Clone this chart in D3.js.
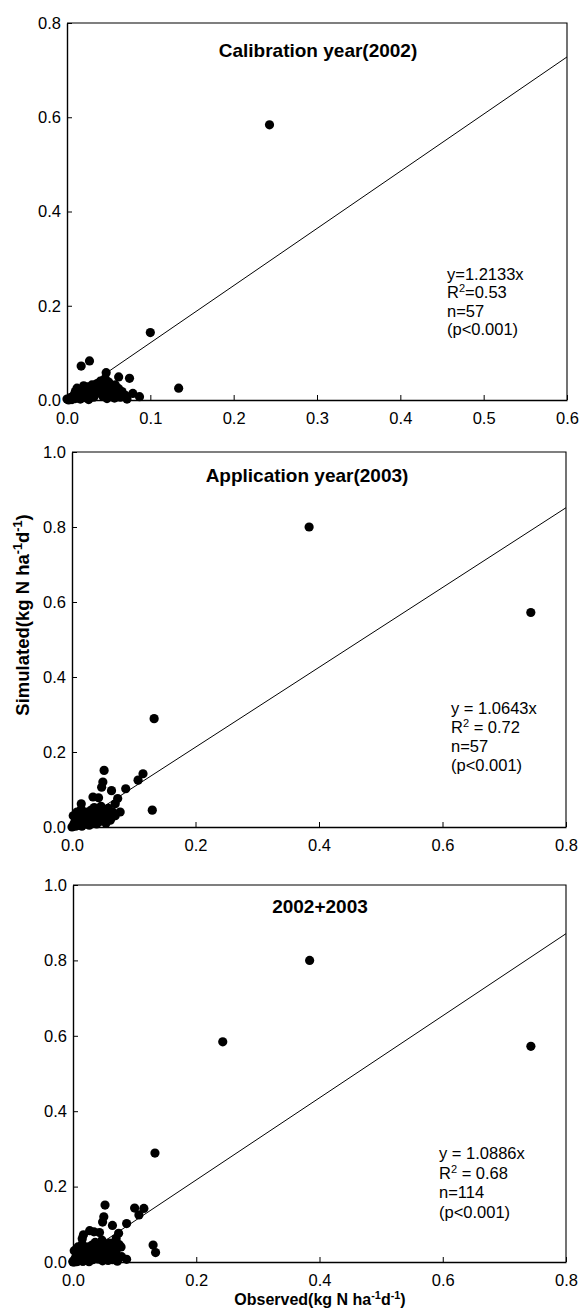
<!DOCTYPE html>
<html>
    <head>
        <meta charset="utf-8">
        <title>Simulated vs observed N</title>
        <style>
         body { margin: 0; background: #fff; }
         svg text { font-family: "Liberation Sans", Arial, sans-serif; fill: #000; white-space: pre; }
        </style>
    </head>

    <body>
        <div id="chart"></div>

        <script src="https://d3js.org/d3.v7.min.js"></script>
        <script>
         // observed / simulated pairs
         var cal2002 = [
             [0.243,0.584],[0.100,0.143],[0.134,0.025],[0.017,0.072],[0.027,0.083],
             [0.047,0.058],[0.062,0.049],[0.075,0.046],[0.079,0.014],[0.087,0.007],
             [0.000,0.002],[0.002,0.000],[0.004,0.005],[0.006,0.001],[0.008,0.010],
             [0.010,0.003],[0.010,0.018],[0.012,0.025],[0.014,0.008],[0.015,0.015],
             [0.016,0.002],[0.018,0.022],[0.020,0.030],[0.020,0.010],[0.022,0.005],
             [0.024,0.018],[0.025,0.028],[0.026,0.001],[0.028,0.012],[0.030,0.032],
             [0.030,0.022],[0.032,0.006],[0.034,0.025],[0.036,0.035],[0.038,0.015],
             [0.040,0.030],[0.040,0.040],[0.042,0.020],[0.043,0.008],[0.044,0.035],
             [0.045,0.012],[0.046,0.045],[0.048,0.026],[0.048,0.003],[0.050,0.038],
             [0.050,0.018],[0.052,0.030],[0.054,0.010],[0.055,0.022],[0.057,0.004],
             [0.058,0.032],[0.060,0.015],[0.062,0.024],[0.064,0.006],[0.066,0.018],
             [0.070,0.010],[0.072,0.002]
         ];
         var app2003 = [
             [0.384,0.800],[0.743,0.572],[0.133,0.289],[0.130,0.045],[0.115,0.142],
             [0.107,0.125],[0.087,0.102],[0.052,0.151],[0.050,0.120],[0.048,0.106],
             [0.064,0.097],[0.034,0.080],[0.043,0.078],[0.074,0.076],[0.070,0.062],
             [0.015,0.062],[0.078,0.040],[0.064,0.025],
             [0.000,0.000],[0.002,0.030],[0.003,0.008],[0.005,0.015],[0.006,0.002],
             [0.008,0.040],[0.009,0.022],[0.010,0.005],[0.012,0.030],[0.013,0.012],
             [0.015,0.048],[0.016,0.002],[0.018,0.020],[0.020,0.035],[0.021,0.008],
             [0.023,0.015],[0.025,0.040],[0.026,0.028],[0.028,0.005],[0.030,0.020],
             [0.031,0.045],[0.033,0.012],[0.035,0.032],[0.036,0.052],[0.038,0.022],
             [0.040,0.008],[0.041,0.040],[0.043,0.030],[0.045,0.015],[0.047,0.055],
             [0.049,0.035],[0.051,0.022],[0.053,0.045],[0.055,0.010],[0.057,0.030],
             [0.059,0.050],[0.062,0.018],[0.066,0.040],[0.070,0.030]
         ];
         // the third panel is both years pooled (n=114)
         var both = cal2002.concat(app2003);

         var titles = ["Calibration year(2002)", "Application year(2003)", "2002+2003"];
         var slopes = [1.2133, 1.0643, 1.0886];
         var eqText = ["y=1.2133x", "y = 1.0643x", "y = 1.0886x"];
         var r2Text = ["=0.53", " = 0.72", " = 0.68"];
         var nText = ["n=57", "n=57", "n=114"];
         var xTicks1 = [0, 0.1, 0.2, 0.3, 0.4, 0.5, 0.6];
         var xTicks23 = [0, 0.2, 0.4, 0.6, 0.8];
         var yTicks1 = [0, 0.2, 0.4, 0.6, 0.8];
         var yTicks23 = [0, 0.2, 0.4, 0.6, 0.8, 1.0];

         var panels = [
             { data: cal2002, xMax: 0.6, xTicks: xTicks1, yMax: 0.8, yTicks: yTicks1,
               left: 67, right: 567, top: 23, bottom: 400,
               titleX: 318, titleY: 57, noteX: 447, noteY: 280, noteGap: 18.3 },
             { data: app2003, xMax: 0.8, xTicks: xTicks23, yMax: 1.0, yTicks: yTicks23,
               left: 72, right: 566, top: 452, bottom: 827,
               titleX: 307, titleY: 482, noteX: 451, noteY: 714, noteGap: 19 },
             { data: both, xMax: 0.8, xTicks: xTicks23, yMax: 1.0, yTicks: yTicks23,
               left: 73, right: 566, top: 885, bottom: 1262,
               titleX: 320, titleY: 913, noteX: 439, noteY: 1159, noteGap: 19.5 }
         ];

         var fmt = d3.format(".1f");
         var svg = d3.select("#chart").append("svg")
             .attr("width", 580)
             .attr("height", 1310);

         panels.forEach(function(p, i) {
             var x = d3.scaleLinear().domain([0, p.xMax]).range([p.left, p.right]);
             var y = d3.scaleLinear().domain([0, p.yMax]).range([p.bottom, p.top]);
             var g = svg.append("g");

             // top and right edges of the box
             g.append("path")
                 .attr("d", "M" + p.left + "," + p.top + "H" + p.right + "V" + p.bottom)
                 .attr("fill", "none")
                 .attr("stroke", "#000")
                 .attr("stroke-width", 1.1);

             var xa = g.append("g")
                 .attr("transform", "translate(0," + p.bottom + ")")
                 .call(d3.axisBottom(x).tickValues(p.xTicks).tickFormat(fmt)
                       .tickSizeInner(-5).tickSizeOuter(0).tickPadding(12));
             var ya = g.append("g")
                 .attr("transform", "translate(" + p.left + ",0)")
                 .call(d3.axisLeft(y).tickValues(p.yTicks).tickFormat(fmt)
                       .tickSizeInner(-5).tickSizeOuter(0).tickPadding(6));
             [xa, ya].forEach(function(a) {
                 a.attr("font-size", 16.5).attr("font-family", null);
                 a.select(".domain").attr("stroke-width", 1.4);
                 a.selectAll(".tick line").attr("stroke-width", 1);
             });

             // regression line through the origin, clipped to the box
             g.append("clipPath").attr("id", "clip" + i)
                 .append("rect")
                 .attr("x", p.left).attr("y", p.top)
                 .attr("width", p.right - p.left).attr("height", p.bottom - p.top);
             g.append("line")
                 .attr("clip-path", "url(#clip" + i + ")")
                 .attr("x1", x(0)).attr("y1", y(0))
                 .attr("x2", x(p.xMax)).attr("y2", y(slopes[i] * p.xMax))
                 .attr("stroke", "#000")
                 .attr("stroke-width", 1);

             g.selectAll("circle")
                 .data(p.data)
                 .enter().append("circle")
                 .attr("cx", function(d) { return x(d[0]); })
                 .attr("cy", function(d) { return y(d[1]); })
                 .attr("r", 4.6)
                 .attr("fill", "#000");

             g.append("text")
                 .attr("x", p.titleX).attr("y", p.titleY)
                 .attr("text-anchor", "middle")
                 .attr("font-size", 19)
                 .attr("font-weight", "bold")
                 .text(titles[i]);

             var note = g.append("g").attr("font-size", 16.5);
             note.append("text").attr("x", p.noteX).attr("y", p.noteY).text(eqText[i]);
             var r2 = note.append("text").attr("x", p.noteX).attr("y", p.noteY + p.noteGap);
             r2.append("tspan").text("R");
             r2.append("tspan").attr("dy", -6).attr("font-size", 11).text("2");
             r2.append("tspan").attr("dy", 6).text(r2Text[i]);
             note.append("text").attr("x", p.noteX).attr("y", p.noteY + 2 * p.noteGap).text(nText[i]);
             note.append("text").attr("x", p.noteX).attr("y", p.noteY + 3 * p.noteGap).text("(p<0.001)");
         });

         // axis titles
         function unitLabel(t, name, size) {
             t.attr("font-weight", "bold").attr("font-size", size).attr("text-anchor", "middle");
             t.append("tspan").text(name + "(kg N ha");
             t.append("tspan").attr("dy", -size * 0.4).attr("font-size", size * 0.68).text("-1");
             t.append("tspan").attr("dy", size * 0.4).text("d");
             t.append("tspan").attr("dy", -size * 0.4).attr("font-size", size * 0.68).text("-1");
             t.append("tspan").attr("dy", size * 0.4).text(")");
         }
         unitLabel(svg.append("text").attr("transform", "translate(29,615) rotate(-90)"), "Simulated", 18.5);
         unitLabel(svg.append("text").attr("x", 320).attr("y", 1305), "Observed", 16);
        </script>
    </body>

</html>
